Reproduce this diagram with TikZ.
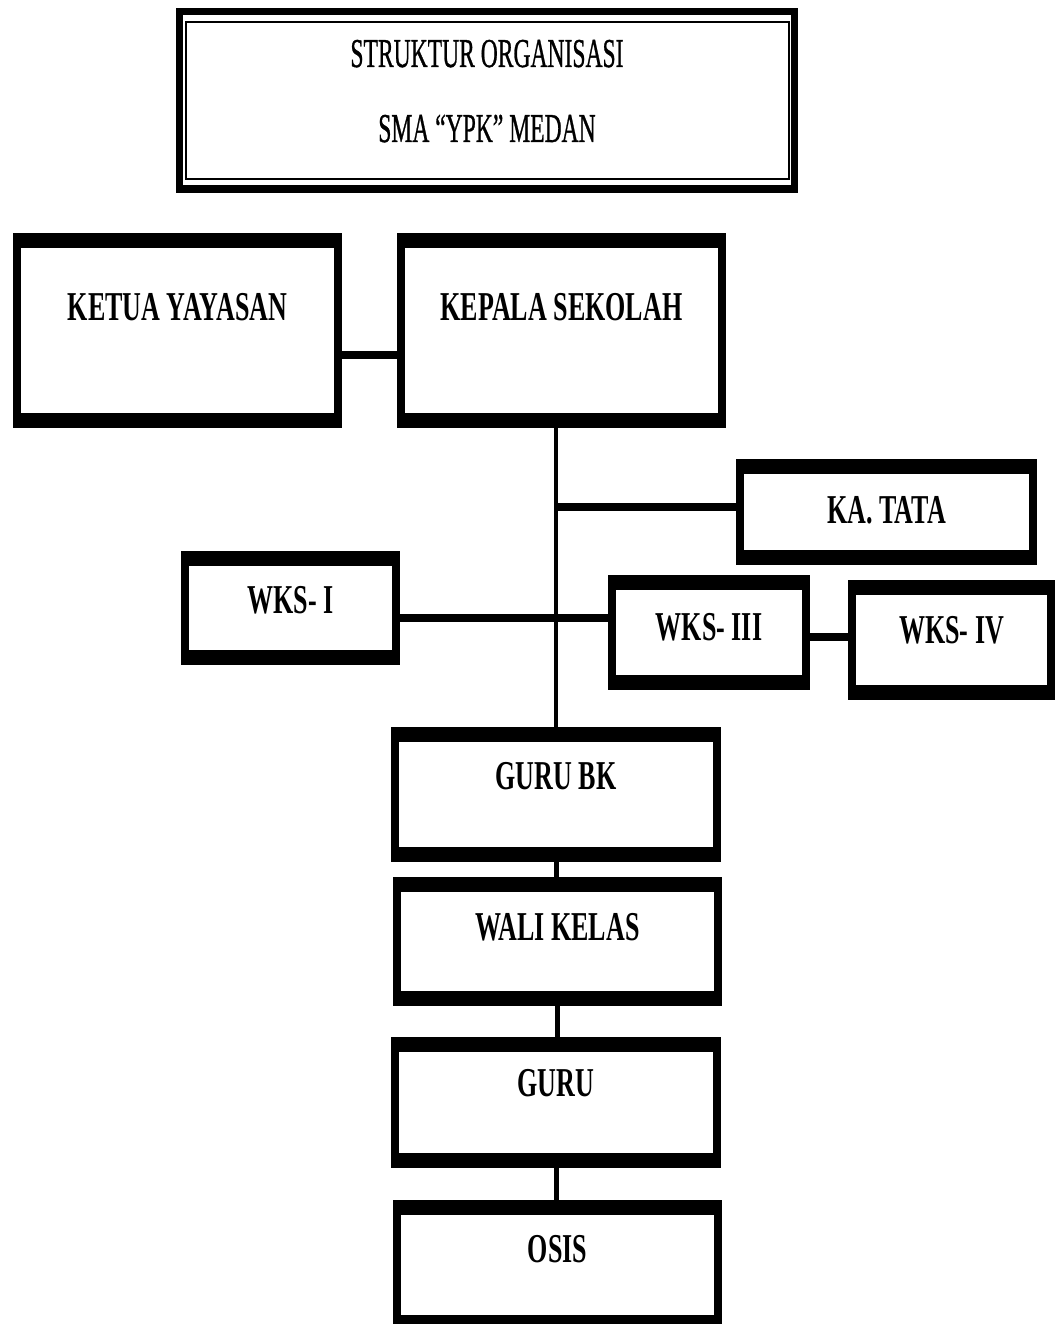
\documentclass[tikz,border=0pt]{standalone}
\usepackage{fontspec}
\setmainfont{Liberation Serif}
\newfontfamily\titlefont[FakeBold=1]{Liberation Serif}
\usepackage{graphicx}
\newcommand{\sqbox}[1]{\scalebox{0.635}[1]{#1}}
\newcommand{\sqtitle}[1]{\scalebox{0.575}[1]{#1}}
\tikzset{
  orgbox/.style={draw=black, fill=white, line width=8pt, inner sep=0pt,
    font=\fontsize{41}{46}\selectfont\bfseries,
    path picture={
      \fill[black] (path picture bounding box.north west) rectangle ([yshift=-11pt]path picture bounding box.north east);
      \fill[black] (path picture bounding box.south west) rectangle ([yshift=11pt]path picture bounding box.south east);
    }},
  titlebox/.style={draw=black, fill=white, line width=7pt, inner sep=0pt,
    font=\fontsize{41}{75}\titlefont,
    path picture={
      \fill[black] (path picture bounding box.north west) rectangle ([yshift=-4pt]path picture bounding box.north east);
      \fill[black] (path picture bounding box.south west) rectangle ([yshift=4pt]path picture bounding box.south east);
      \draw[line width=2pt] ([shift={(6pt,-10.5pt)}]path picture bounding box.north west) rectangle ([shift={(-6pt,10.5pt)}]path picture bounding box.south east);
    }},
  hconn/.style={line width=8pt},
  spine/.style={line width=4pt},
  vconn/.style={line width=5pt}
}
\newcommand{\orgbox}[7]{%
  \pgfmathsetmacro\bxcx{(#2+#4)/2}%
  \pgfmathsetmacro\bxcy{(#3+#5)/2}%
  \pgfmathsetmacro\bxw{#4-#2-8}%
  \pgfmathsetmacro\bxh{#5-#3-8}%
  \pgfmathsetmacro\bxd{max(2*(\bxcy-#6),0)}%
  \pgfmathsetmacro\bxt{max(2*(#6-\bxcy),0)}%
  \node[orgbox, minimum width=\bxw pt, minimum height=\bxh pt,
        text height=\bxt pt, text depth=\bxd pt] (#1) at (\bxcx,\bxcy) {\sqbox{#7}};%
}
\begin{document}
\begin{tikzpicture}[x=1pt, y=-1pt]
  \useasboundingbox[fill=white] (0,0) rectangle (1059,1324);

  % title: first baseline at y=67, second at y=142
  \node[titlebox, minimum width=615pt, minimum height=178pt] (title) at (487,100.5)
    {\raisebox{0pt}[0pt][67pt]{\begin{tabular}[t]{@{}c@{}}\sqtitle{STRUKTUR ORGANISASI}\\ \sqtitle{SMA “YPK” MEDAN}\end{tabular}}};

  % boxes
  \orgbox{ketua}{13}{233}{342}{428}{320}{KETUA YAYASAN}
  \orgbox{kepala}{397}{233}{726}{428}{320}{KEPALA SEKOLAH}
  \orgbox{kata}{736}{459}{1037}{565}{523}{KA. TATA}
  \orgbox{wks1}{181}{551}{400}{665}{613}{WKS- I}
  \orgbox{wks3}{608}{575}{810}{690}{640}{WKS- III}
  \orgbox{wks4}{848}{580}{1055}{700}{643}{WKS- IV}
  \orgbox{gurubk}{391}{727}{721}{862}{789}{GURU BK}
  \orgbox{wali}{393}{877}{722}{1006}{940}{WALI KELAS}
  \orgbox{guru}{391}{1037}{721}{1168}{1096}{GURU}
  \orgbox{osis}{393}{1200}{722}{1330}{1262}{OSIS}

  % junction points on the spine
  \coordinate (jk) at (556,355);
  \coordinate (jt) at (556,507);
  \coordinate (jw) at (556,618);
  \coordinate (j34) at (829,637);

  % connectors
  \draw[hconn] (ketua.east |- jk) -- (kepala.west |- jk);
  \draw[spine] (kepala.south -| gurubk.north) -- (gurubk.north);
  \draw[hconn] (kata.west |- jt) -- (jt);
  \draw[hconn] (wks1.east |- jw) -- (wks3.west |- jw);
  \draw[hconn] (wks3.east |- j34) -- (wks4.west |- j34);
  \draw[vconn] (gurubk.south) -- (wali.north -| gurubk.south);
  \draw[vconn] (wali.south) -- (guru.north -| wali.south);
  \draw[vconn] (guru.south) -- (osis.north -| guru.south);
\end{tikzpicture}
\end{document}
